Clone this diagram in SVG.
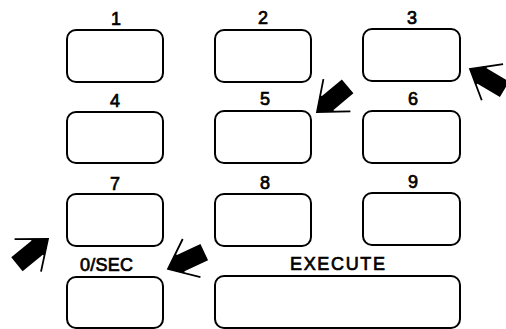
<svg xmlns="http://www.w3.org/2000/svg" xmlns:xlink="http://www.w3.org/1999/xlink" width="506" height="329" viewBox="0 0 506 329">
  <style>
    .key { fill: #fff; stroke: #000; stroke-width: 2; }
    .lbl { font-family: "Liberation Sans", Arial, sans-serif; font-size: 18px; fill: #000; stroke: #000; stroke-width: 0.7; text-anchor: middle; }
  </style>
  <defs>
    <g id="arw">
      <polygon points="0,0 -13,-11 -14,-9 -40,-9 -40,9 -14,9 -13,11" fill="#000"/>
      <polyline points="-26,-21 0,0 -26,21" fill="none" stroke="#000" stroke-width="1.8"/>
    </g>
  </defs>
  <rect width="506" height="329" fill="#fff"/>

  <g id="key1"><rect class="key" x="67" y="30" width="96" height="52" rx="9"/><text class="lbl" x="116" y="25">1</text></g>
  <g id="key2"><rect class="key" x="215" y="30" width="96" height="52" rx="9"/><text class="lbl" x="263" y="24">2</text></g>
  <g id="key3"><rect class="key" x="363" y="29" width="97" height="52" rx="9"/><text class="lbl" x="412" y="24">3</text></g>

  <g id="key4"><rect class="key" x="67" y="112" width="96" height="51" rx="9"/><text class="lbl" x="115" y="107">4</text></g>
  <g id="key5"><rect class="key" x="215" y="111" width="96" height="52" rx="9"/><text class="lbl" x="265" y="105">5</text></g>
  <g id="key6"><rect class="key" x="363" y="111" width="97" height="52" rx="9"/><text class="lbl" x="413" y="105">6</text></g>

  <g id="key7"><rect class="key" x="67" y="194" width="96" height="52" rx="9"/><text class="lbl" x="115" y="190">7</text></g>
  <g id="key8"><rect class="key" x="215" y="194" width="96" height="52" rx="9"/><text class="lbl" x="265" y="189">8</text></g>
  <g id="key9"><rect class="key" x="363" y="193" width="97" height="52" rx="9"/><text class="lbl" x="413" y="188">9</text></g>

  <g id="key0"><rect class="key" x="67" y="277" width="96" height="51" rx="9"/><text class="lbl" x="106.5" y="271" textLength="53">0/SEC</text></g>
  <g id="execute"><rect class="key" x="215" y="276" width="245" height="52" rx="9"/><text class="lbl" x="337.5" y="270" textLength="95">EXECUTE</text></g>

  <g id="connectors">
    <use xlink:href="#arw" transform="translate(317,112) rotate(140)"/>
    <use xlink:href="#arw" transform="translate(470,69) rotate(210.5)"/>
    <use xlink:href="#arw" transform="translate(48,239) rotate(-39)"/>
    <use xlink:href="#arw" transform="translate(168,269) rotate(155)"/>
  </g>
</svg>
